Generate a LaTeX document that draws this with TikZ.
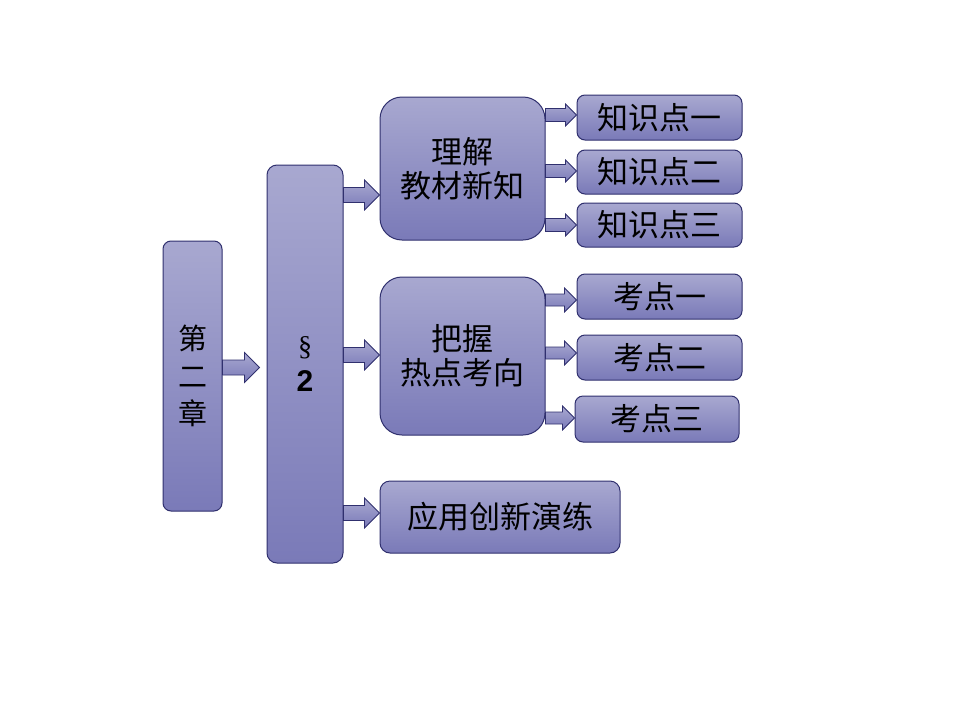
\documentclass[tikz,border=0pt]{standalone}
\usepackage{fontspec}
\setmainfont{Liberation Sans}
\newfontfamily\cjk{Noto Sans CJK SC}
\newfontfamily\serifs{Liberation Serif}
\usetikzlibrary{calc}
\definecolor{boxtop}{RGB}{168,168,208}
\definecolor{boxbot}{RGB}{122,122,184}
\definecolor{boxline}{RGB}{48,48,110}
\tikzset{
  box/.style={draw=boxline, line width=1pt, top color=boxtop, bottom color=boxbot, inner sep=0pt, align=center, font=\cjk\fontsize{31}{35}\selectfont},
  arr/.style={draw=boxline, line width=0.8pt, top color=boxtop, bottom color=boxbot},
}
% #1 start node, #2 end node, #3 y, #4 gap, #5 shaft half, #6 head half, #7 head length
\newcommand\barrow[7]{%
  \draw[arr] let \p1=(#1.east), \p2=(#2.west), \p3=(0,#3) in
    (\x1,\y3+#5) -- (\x2-#4-#7,\y3+#5) -- (\x2-#4-#7,\y3+#6) -- (\x2-#4,\y3)
    -- (\x2-#4-#7,\y3-#6) -- (\x2-#4-#7,\y3-#5) -- (\x1,\y3-#5) -- cycle;}
\begin{document}
\begin{tikzpicture}[x=1pt,y=-1pt]
\useasboundingbox (0,0) rectangle (960,720);
% boxes
\node[box, rounded corners=8pt, minimum width=59pt, minimum height=270pt, font=\cjk\fontsize{29}{37.5}\selectfont] (ch) at (192.5,376) {第\\二\\章};
\node[box, rounded corners=10pt, minimum width=76pt, minimum height=398pt, font=\fontsize{30}{37}\selectfont] (s2) at (305,364) {{\serifs\fontsize{28}{28}\selectfont\S}\\[-1pt]\textbf{2}};
\node[box, rounded corners=22pt, minimum width=165pt, minimum height=143pt, font=\cjk\fontsize{31}{34}\selectfont] (lj) at (462.5,168.5) {理解\\教材新知};
\node[box, rounded corners=22pt, minimum width=165pt, minimum height=158pt, font=\cjk\fontsize{31}{34}\selectfont] (bw) at (462.5,356) {把握\\热点考向};
\node[box, rounded corners=10pt, minimum width=240pt, minimum height=72pt] (yy) at (500,517) {应用创新演练};
\node[box, rounded corners=8pt, minimum width=165pt, minimum height=45pt] (k1) at (659.5,117.5) {知识点一};
\node[box, rounded corners=8pt, minimum width=165pt, minimum height=44pt] (k2) at (659.5,172) {知识点二};
\node[box, rounded corners=8pt, minimum width=165pt, minimum height=44pt] (k3) at (659.5,225) {知识点三};
\node[box, rounded corners=8pt, minimum width=165pt, minimum height=45pt] (t1) at (659.5,296.5) {考点一};
\node[box, rounded corners=8pt, minimum width=165pt, minimum height=45pt] (t2) at (659.5,357.5) {考点二};
\node[box, rounded corners=8pt, minimum width=164pt, minimum height=46pt] (t3) at (657,419) {考点三};
% arrows
\barrow{ch}{s2}{367.5}{7pt}{7.5pt}{15pt}{15pt}
\barrow{s2}{lj}{195}{0pt}{7.5pt}{15pt}{15pt}
\barrow{s2}{bw}{355}{0pt}{7.5pt}{15pt}{15pt}
\barrow{s2}{yy}{513}{0pt}{7.5pt}{15pt}{15pt}
\barrow{lj}{k1}{115}{0pt}{6.5pt}{11pt}{11pt}
\barrow{lj}{k2}{171}{0pt}{6.5pt}{11pt}{11pt}
\barrow{lj}{k3}{225}{0pt}{6.5pt}{11pt}{11pt}
\barrow{bw}{t1}{300}{0pt}{6pt}{12pt}{12pt}
\barrow{bw}{t2}{353}{0pt}{6pt}{12pt}{12pt}
\barrow{bw}{t3}{418}{0pt}{6pt}{12pt}{12pt}
\end{tikzpicture}
\end{document}
